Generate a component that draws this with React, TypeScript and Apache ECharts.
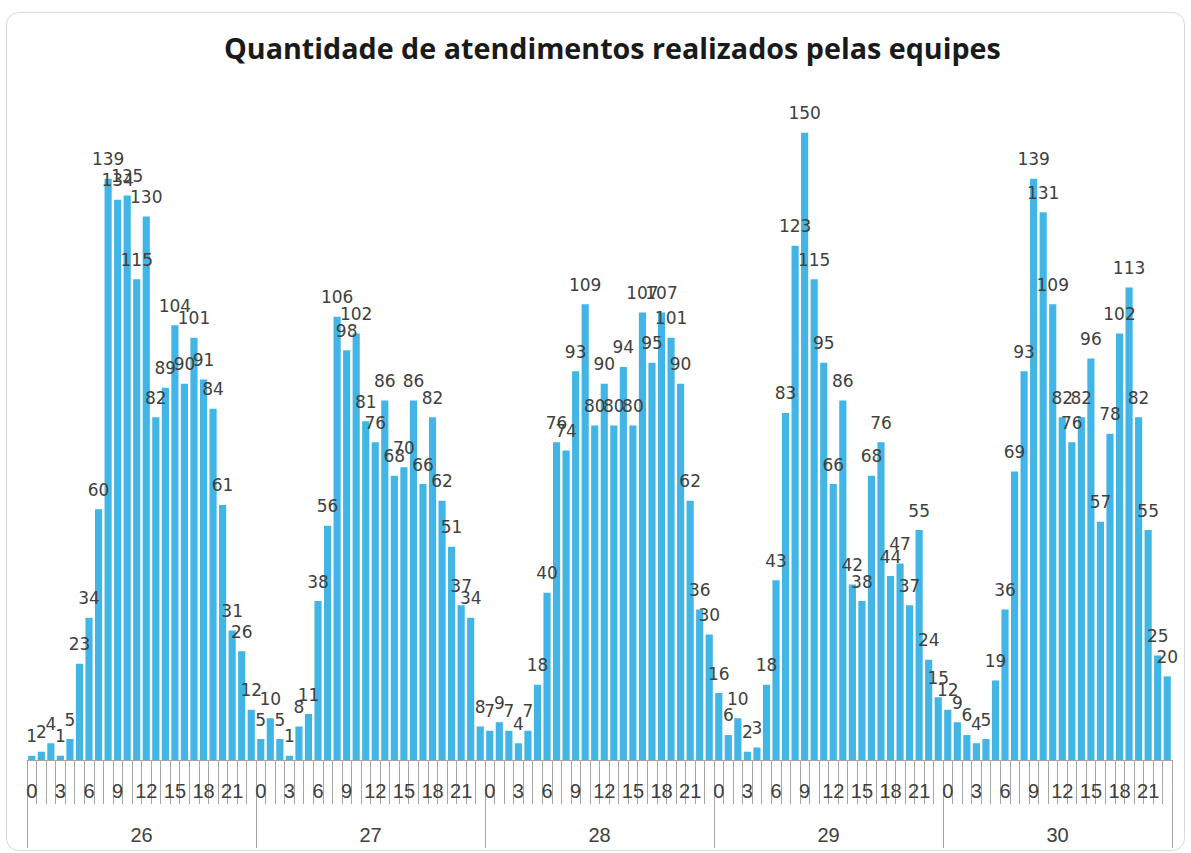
import React, { useEffect, useRef } from "react";
import * as echarts from "echarts";

const days = ["26", "27", "28", "29", "30"];
const hourTicks = Array.from({ length: 24 }, (_, i) => String(i));
const day26 = [1, 2, 4, 1, 5, 23, 34, 60, 139, 134, 135, 115, 130, 82, 89, 104, 90, 101, 91, 84, 61, 31, 26, 12];
const day27 = [5, 10, 5, 1, 8, 11, 38, 56, 106, 98, 102, 81, 76, 86, 68, 70, 86, 66, 82, 62, 51, 37, 34, 8];
const day28 = [7, 9, 7, 4, 7, 18, 40, 76, 74, 93, 109, 80, 90, 80, 94, 80, 107, 95, 107, 101, 90, 62, 36, 30];
const day29 = [16, 6, 10, 2, 3, 18, 43, 83, 123, 150, 115, 95, 66, 86, 42, 38, 68, 76, 44, 47, 37, 55, 24, 15];
const day30 = [12, 9, 6, 4, 5, 19, 36, 69, 93, 139, 131, 109, 82, 76, 82, 96, 57, 78, 102, 113, 82, 55, 25, 20];

const title = "Quantidade de atendimentos realizados pelas equipes";

export default function App() {
  const ref = useRef<HTMLDivElement>(null);
  useEffect(() => {
    if (!ref.current) return;
    const chart = echarts.init(ref.current, null, { renderer: "svg" });
    const hours: string[] = [];
    days.forEach(() => hourTicks.forEach((h) => hours.push(h)));
    const values = [...day26, ...day27, ...day28, ...day29, ...day30];
    const axisColor = "#a6a6a6";
    chart.setOption({
      animation: false,
      backgroundColor: "#ffffff",
      title: {
        text: title,
        left: 219,
        top: 28,
        textStyle: { fontFamily: "Open Sans", fontWeight: "bold", fontSize: 28.7, color: "#1a1a1a" },
      },
      graphic: [
        {
          type: "rect",
          shape: { x: 6.5, y: 12.5, width: 1178, height: 838, r: 12 },
          style: { fill: "none", stroke: "#d9d9d9", lineWidth: 1 },
          silent: true,
        },
      ],
      grid: { left: 27, right: 19, top: 91, bottom: 93, containLabel: false },
      xAxis: [
        {
          type: "category",
          data: hours,
          position: "bottom",
          axisLine: { show: true, lineStyle: { color: axisColor, width: 1 } },
          axisTick: { show: true, interval: 0, length: 44, alignWithLabel: false, lineStyle: { color: axisColor } },
          axisLabel: { interval: 2, margin: 21, fontSize: 20, color: "#404040", fontFamily: "Liberation Sans" },
        },
        {
          type: "category",
          data: days,
          position: "bottom",
          axisLine: { show: false },
          axisTick: { show: true, interval: 0, length: 88, lineStyle: { color: axisColor } },
          axisLabel: { interval: 0, margin: 65, fontSize: 20, color: "#404040", fontFamily: "Liberation Sans" },
        },
      ],
      yAxis: { type: "value", min: 0, max: 160, show: false, splitLine: { show: false } },
      series: [
        {
          type: "bar",
          xAxisIndex: 0,
          data: values,
          barCategoryGap: "25%",
          itemStyle: { color: "#41B6E6" },
          label: {
            show: true,
            position: "top",
            distance: 11,
            fontSize: 17,
            color: "#404040",
            fontFamily: "DejaVu Sans",
          },
        },
      ],
    });
    return () => chart.dispose();
  }, []);
  return (
    <div
      ref={ref}
      style={{ position: "absolute", left: 0, top: 0, width: 1191, height: 853, background: "#fff" }}
    />
  );
}
